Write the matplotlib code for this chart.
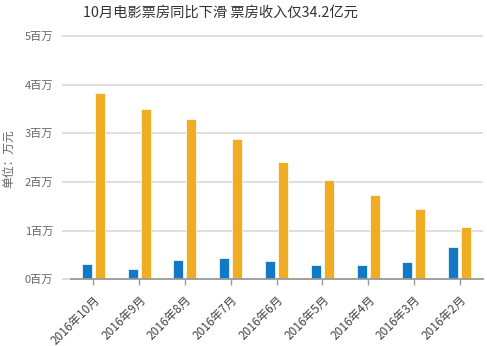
import matplotlib
matplotlib.use("Agg")
import matplotlib.pyplot as plt
import numpy as np

plt.rcParams['font.family'] = ['Noto Sans CJK SC', 'DejaVu Sans']

# Monthly values (万元), newest month first
months = ["2016年10月", "2016年9月", "2016年8月", "2016年7月", "2016年6月",
          "2016年5月", "2016年4月", "2016年3月", "2016年2月"]
series_blue = [318000, 215000, 405000, 445000, 385000, 300000, 300000, 360000, 670000]
series_orange = [3835000, 3505000, 3285000, 2875000, 2415000, 2045000, 1735000, 1435000, 1065000]
y_ticks = [0, 1000000, 2000000, 3000000, 4000000, 5000000]
y_tick_labels = ["0百万", "1百万", "2百万", "3百万", "4百万", "5百万"]

title = "10月电影票房同比下滑 票房收入仅34.2亿元"
unit_label = "单位：万元"

W, H = 487, 346
fig = plt.figure(figsize=(W / 100, H / 100), dpi=100)
ax = fig.add_axes([70.5 / W, (H - 279.3) / H, 412 / W, (279.3 - 36) / H])

x = np.arange(len(months))
bw = 0.22
off = 0.142
ax.bar(x - off, series_blue, width=bw, color="#1279c7", edgecolor="white", linewidth=0.5, zorder=3)
ax.bar(x + off, series_orange, width=bw, color="#f0ad23", edgecolor="white", linewidth=0.5, zorder=3)

ax.set_xlim(-0.5, len(months) - 0.5)
ax.set_ylim(0, 5000000)

# horizontal grid lines reaching a little past the plot's left edge
ax.hlines(y_ticks[1:], -0.69, len(months) - 0.5, colors="#d9d9d9", linewidth=1.2, zorder=1, clip_on=False)
ax.hlines([0], -0.69, -0.5, colors="#d9d9d9", linewidth=1.2, zorder=1, clip_on=False)

for s in ["top", "right", "left"]:
    ax.spines[s].set_visible(False)
ax.spines["bottom"].set_color("#999999")
ax.spines["bottom"].set_linewidth(1.3)
ax.spines["bottom"].set_zorder(4)

ax.set_yticks(y_ticks)
ax.set_yticklabels(y_tick_labels, fontsize=8, color="#666666")
ax.tick_params(axis="y", length=0, pad=12.5)

ax.set_xticks(x)
ax.set_xticklabels(months, rotation=45, ha="right", rotation_mode="anchor",
                   fontsize=8.5, color="#444444")
ax.tick_params(axis="x", length=4, width=1, color="#999999", pad=6)

fig.text(9 / W, 1 - 159 / H, unit_label, rotation=90, ha="center", va="center",
         fontsize=8.5, color="#666666")
fig.text(83 / W, 1 - 13 / H, title, ha="left", va="center", fontsize=10.3, color="#333333")

fig.savefig("out.png", dpi=100)
